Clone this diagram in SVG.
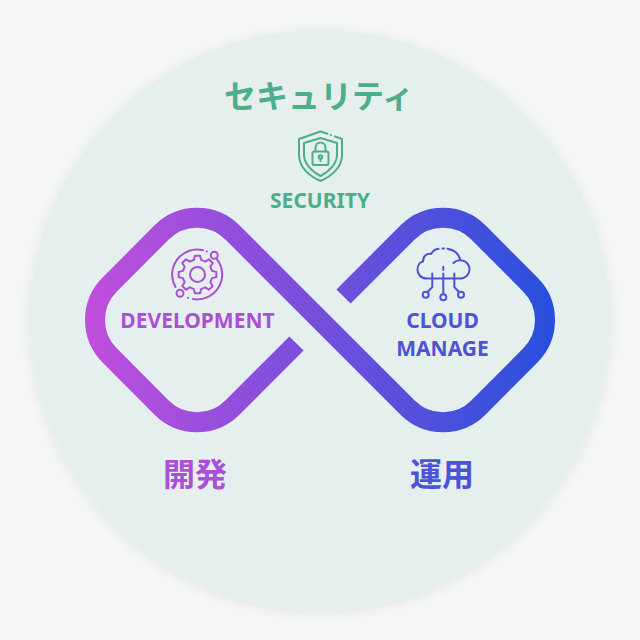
<svg xmlns="http://www.w3.org/2000/svg" width="640" height="640" viewBox="0 0 640 640">
<defs>
<linearGradient id="g" gradientUnits="userSpaceOnUse" x1="85" y1="320" x2="555" y2="320"><stop offset="0" stop-color="#c24edc"/><stop offset="1" stop-color="#2650dc"/></linearGradient>
<filter id="s" x="-10%" y="-10%" width="120%" height="120%"><feDropShadow dx="0" dy="2" stdDeviation="6" flood-color="#000" flood-opacity="0.08"/></filter>
</defs>
<style>
.t{font-family:"Noto Sans","Noto Sans CJK JP",sans-serif;font-weight:700;text-anchor:middle;font-size:21px}
.j{font-family:"Noto Sans CJK JP",sans-serif;font-weight:700;text-anchor:middle}
.i{fill:none;stroke-width:2;stroke-linecap:round;stroke-linejoin:round}
.gr{fill:#4cae8a}.gs{stroke:#4cae8a}
.pu{fill:#ab4fd6}.ps{stroke:#ab4fd6}
.bl{fill:#4c53d4}.bs{stroke:#4c53d4}
</style>
<rect width="640" height="640" fill="#f4f6f8"/>
<circle cx="320" cy="320" r="290" fill="#e5efee" filter="url(#s)"/>
<g id="connectors">
<path d="M296.5 343.5L232.36 407.64A50 50 0 0 1 161.64 407.64L109.64 355.36A50 50 0 0 1 109.64 284.64L161.64 232.36A50 50 0 0 1 232.36 232.36L407.64 407.64A50 50 0 0 0 478.36 407.64L530.36 355.36A50 50 0 0 0 530.36 284.64L478.36 232.36A50 50 0 0 0 407.64 232.36L343.5 296.5" fill="none" stroke="url(#g)" stroke-width="20"/>
</g>
<g id="security">
<text class="j gr" x="319" y="108" font-size="32">セキュリティ</text>
<g class="i gs">
<path d="M327.500 133.800L320.500 131.500L299 139V155C299 167 309 176 320.500 181C332 176 342 167 342 155V139L335 136.500M331 135.100L330.800 135"/>
<path d="M320.500 138L304 143V155C304 163 311 171 320.500 176C330 171 337 163 337 155V143Z"/>
<rect x="312.500" y="151.500" width="16" height="13.500" rx="1.500"/>
<path d="M315.500 151.500V147.500A5 5 0 0 1 325.500 147.500V151.500"/>
<circle cx="320.500" cy="157" r="1.700"/><path d="M320.500 158.700V161"/>
</g>
<text class="t gr" x="320" y="208">SECURITY</text>
</g>
<g id="development">
<g class="i ps">
<circle cx="197.500" cy="274.500" r="7.500"/>
<path transform="translate(197.500 274.500)" d="M-3.630 -14.550L-2.640 -18.810L2.640 -18.810L3.630 -14.550L7.720 -12.860L11.430 -15.170L15.170 -11.430L12.860 -7.720L14.550 -3.630L18.810 -2.640L18.810 2.640L14.550 3.630L12.860 7.720L15.170 11.430L11.430 15.170L7.720 12.860L3.630 14.550L2.640 18.810L-2.640 18.810L-3.630 14.550L-7.720 12.860L-11.430 15.170L-15.170 11.430L-12.860 7.720L-14.550 3.630L-18.810 2.640L-18.810 -2.640L-14.550 -3.630L-12.860 -7.720L-15.170 -11.430L-11.430 -15.170L-7.720 -12.860Z"/>
<path d="M216.900 259.100A25 25 0 0 1 192.900 299.100M175.500 287A25 25 0 0 1 203 250.200M206.700 251.400L206.800 251.500M188 297.800L188.100 297.900"/>
<circle cx="214.300" cy="255.300" r="3.500"/><circle cx="180" cy="293.300" r="3.500"/>
</g>
<text class="t pu" x="197.500" y="327.500">DEVELOPMENT</text>
</g>
<g id="cloud">
<g class="i bs">
<path d="M427 278.500C420 278.500 417.500 273.500 417.500 269.500C417.500 265 420 262 423 261.500C423 256 427 253 431 254C433 251 436 249 438.500 248.800M442.500 248.500L444 248.500M447.500 248.800C454 250 459 254 460.500 260.500M453.500 263C456 260.500 460 260 462 260.500C466.500 261 469.500 265 469.500 269.500C469.500 274 466 278.500 460.500 278.500H427"/>
<path d="M432.300 273.500V287L427.500 292M443.300 273.500V294.300M454.300 273.500V287L459 292M443.300 266.700V270"/>
<circle cx="425.700" cy="294.700" r="3"/><circle cx="443.300" cy="297.300" r="3"/><circle cx="461" cy="294.700" r="3"/>
</g>
<text class="t bl" x="442.500" y="327.500">CLOUD</text>
<text class="t bl" x="442.500" y="355.500">MANAGE</text>
</g>
<text class="j pu" x="195" y="486" font-size="32">開発</text>
<text class="j bl" x="442" y="486" font-size="32">運用</text>
</svg>
